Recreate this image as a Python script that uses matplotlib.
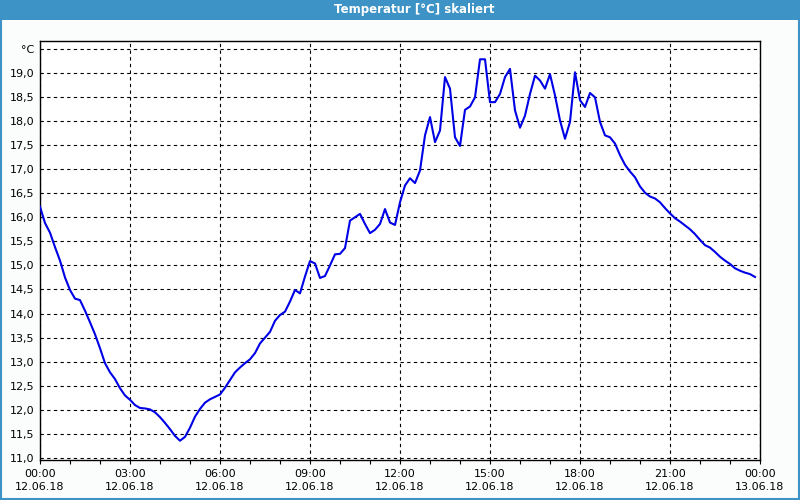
import matplotlib
matplotlib.use('Agg')
import matplotlib.pyplot as plt
import matplotlib.dates as mdates
from matplotlib.patches import Rectangle
import pandas as pd

# Messwerte, 10-Minuten-Raster ab 12.06.18 00:00
temps = [16.22, 15.88, 15.68, 15.38, 15.10, 14.75, 14.49, 14.31, 14.28, 14.06,
         13.82, 13.57, 13.28, 12.97, 12.78, 12.64, 12.45, 12.30, 12.21, 12.10,
         12.04, 12.03, 12.01, 11.95, 11.85, 11.73, 11.60, 11.46, 11.36, 11.44,
         11.63, 11.86, 12.02, 12.15, 12.22, 12.27, 12.32, 12.46, 12.62, 12.78,
         12.88, 12.97, 13.05, 13.18, 13.38, 13.50, 13.62, 13.85, 13.97, 14.04,
         14.25, 14.49, 14.42, 14.77, 15.09, 15.04, 14.74, 14.78, 15.00, 15.23,
         15.24, 15.36, 15.93, 16.00, 16.07, 15.86, 15.67, 15.74, 15.86, 16.17,
         15.89, 15.84, 16.31, 16.66, 16.81, 16.71, 16.97, 17.70, 18.08, 17.56,
         17.80, 18.91, 18.67, 17.66, 17.48, 18.23, 18.30, 18.49, 19.28, 19.28,
         18.39, 18.39, 18.56, 18.91, 19.08, 18.22, 17.86, 18.11, 18.56, 18.94,
         18.84, 18.67, 18.97, 18.53, 18.01, 17.63, 17.98, 19.01, 18.43, 18.29,
         18.58, 18.49, 17.98, 17.70, 17.66, 17.53, 17.29, 17.09, 16.95, 16.83,
         16.64, 16.51, 16.43, 16.39, 16.31, 16.19, 16.08, 15.98, 15.91, 15.83,
         15.75, 15.65, 15.53, 15.42, 15.37, 15.28, 15.18, 15.10, 15.03, 14.94,
         14.89, 14.85, 14.82, 14.76]
times = pd.date_range('2018-06-12 00:00', periods=len(temps), freq='10min')

y_ticks = [11.0, 11.5, 12.0, 12.5, 13.0, 13.5, 14.0, 14.5, 15.0, 15.5,
           16.0, 16.5, 17.0, 17.5, 18.0, 18.5, 19.0, 19.5]
y_labels = [f'{v:.1f}'.replace('.', ',') for v in y_ticks[:-1]] + ['°C']
title = 'Temperatur [°C] skaliert'

BAR = '#3d93c5'
plt.rcParams['font.family'] = ['DejaVu Sans']

fig = plt.figure(figsize=(8, 5), dpi=100, facecolor='#fbfdfc')
# Titelleiste und Fensterrahmen
fig.patches.append(Rectangle((0, 0.96), 1, 0.04, transform=fig.transFigure,
                             facecolor=BAR, edgecolor='none', zorder=0))
fig.patches.append(Rectangle((0.001, 0.002), 0.998, 0.996, transform=fig.transFigure,
                             facecolor='none', edgecolor=BAR, linewidth=1.5, zorder=0))
fig.text(0.518, 0.98, title, color='white', fontsize=8.5, fontweight='bold',
         ha='center', va='center')

ax = fig.add_axes([0.05, 0.081, 0.90, 0.838])
ax.set_facecolor('white')
ax.plot(times, temps, color='#0000e6', linewidth=1.5, zorder=3)

start = pd.Timestamp('2018-06-12 00:00')
end = pd.Timestamp('2018-06-13 00:00')
ax.set_xlim(start, end)
ax.set_ylim(10.97, 19.67)

ax.xaxis.set_major_locator(mdates.HourLocator(byhour=range(0, 24, 3)))
ax.xaxis.set_minor_locator(mdates.HourLocator())
ax.xaxis.set_major_formatter(mdates.DateFormatter('%H:%M\n%d.%m.%y'))
ax.set_yticks(y_ticks)
ax.set_yticklabels(y_labels)

ax.tick_params(axis='x', which='both', direction='out', length=3, width=0.8,
               pad=4, labelsize=8, colors='black')
ax.tick_params(axis='y', length=0, pad=4, labelsize=8)
for lbl in ax.get_xticklabels():
    lbl.set_linespacing(1.35)

ax.grid(True, which='major', color='black', linestyle=(0, (3, 3)), linewidth=0.8)
for s in ax.spines.values():
    s.set_linewidth(1.0)
    s.set_color('black')

fig.savefig('out.png', dpi=100, facecolor=fig.get_facecolor())
